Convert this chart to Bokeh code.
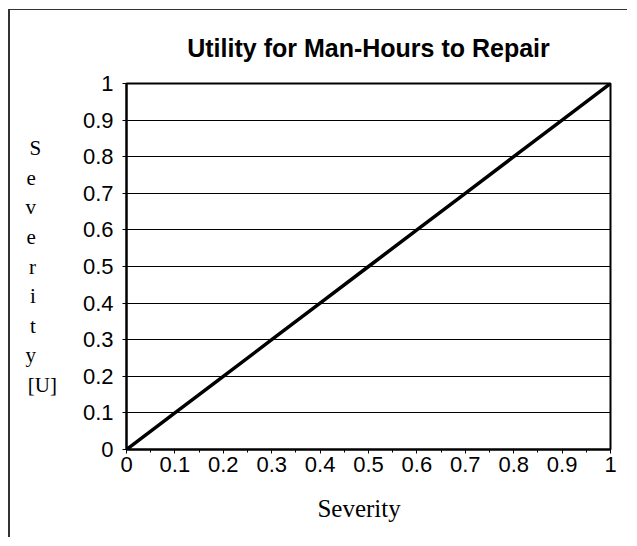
from bokeh.plotting import figure
from bokeh.models import Range1d, FixedTicker
from bokeh.embed import file_html
from bokeh.resources import INLINE

# ---- data ----
severity = [0.0, 0.1, 0.2, 0.3, 0.4, 0.5, 0.6, 0.7, 0.8, 0.9, 1.0]
utility = [0.0, 0.1, 0.2, 0.3, 0.4, 0.5, 0.6, 0.7, 0.8, 0.9, 1.0]
tick_values = [0.0, 0.1, 0.2, 0.3, 0.4, 0.5, 0.6, 0.7, 0.8, 0.9, 1.0]
tick_labels = ["0", "0.1", "0.2", "0.3", "0.4", "0.5", "0.6", "0.7", "0.8", "0.9", "1"]
minor_values = [0.05, 0.15, 0.25, 0.35, 0.45, 0.55, 0.65, 0.75, 0.85, 0.95]
title_text = "Utility for Man-Hours to Repair"
x_label = "Severity"
y_label_parts = ["S", "e", "v", "e", "r", "i", "t", "y", "[U]"]

W, H = 619, 528
FL, FR, FT, FB = 116, 600, 73, 439  # frame edges in figure pixels

p = figure(width=W, height=H, output_backend="svg", toolbar_location=None,
           x_range=Range1d(0, 1), y_range=Range1d(0, 1),
           min_border_left=FL, min_border_right=W - FR,
           min_border_top=FT, min_border_bottom=H - FB,
           title=title_text)
p.margin = (9, 0, 0, 8)
p.styles = {"border-left": "2px solid #333", "border-top": "1px solid #333"}
p.background_fill_color = "white"
p.border_fill_color = "white"
p.outline_line_color = "black"
p.outline_line_width = 2

p.line(severity, utility, line_color="black", line_width=3.5)

for ax, minor in ((p.xaxis, minor_values), (p.yaxis, [])):
    ax.ticker = FixedTicker(ticks=tick_values, minor_ticks=minor)
    ax.major_label_overrides = {v: s for v, s in zip(tick_values, tick_labels)}
    ax.axis_line_color = "black"
    ax.axis_line_width = 2
    ax.major_tick_line_color = "black"
    ax.minor_tick_line_color = "black"
    ax.major_tick_in = 0
    ax.major_tick_out = 4
    ax.minor_tick_in = 0
    ax.minor_tick_out = 3
    ax.major_label_text_font = "Liberation Sans"
    ax.major_label_text_font_size = "22px"
    ax.major_label_text_color = "black"
    ax.axis_label_text_font = "Liberation Serif"
    ax.axis_label_text_font_style = "normal"
    ax.axis_label_text_color = "black"
p.yaxis.major_label_standoff = 9
p.xaxis.major_label_standoff = 3

NBSP = "\u00a0"
# the original's x label sits a little left of the plot centre
p.xaxis.axis_label = x_label + NBSP * 3
p.xaxis.axis_label_text_font_size = "25px"
p.xaxis.axis_label_standoff = 20

# stacked y label; lines are right-aligned by Bokeh, so pad the single
# letters with no-break spaces to make them sit flush left like the original
pad = {"S": 3}
y_lines = [s if len(s) > 1 else s + NBSP * pad.get(s, 4) for s in y_label_parts]
p.yaxis.axis_label = "\n".join(y_lines)
p.yaxis.axis_label_orientation = "horizontal"
p.yaxis.axis_label_text_font_size = "21px"
p.yaxis.axis_label_text_line_height = 1.23
p.yaxis.axis_label_standoff = 23

p.xgrid.grid_line_color = None
p.ygrid.grid_line_color = "black"
p.ygrid.grid_line_width = 1
p.ygrid.ticker = FixedTicker(ticks=tick_values)

p.title.text_font = "Liberation Sans"
p.title.text_font_style = "bold"
p.title.text_font_size = "25px"
p.title.text_color = "black"
p.title.align = "center"
p.title.standoff = 43

open("out.html", "w").write(file_html(p, INLINE))
